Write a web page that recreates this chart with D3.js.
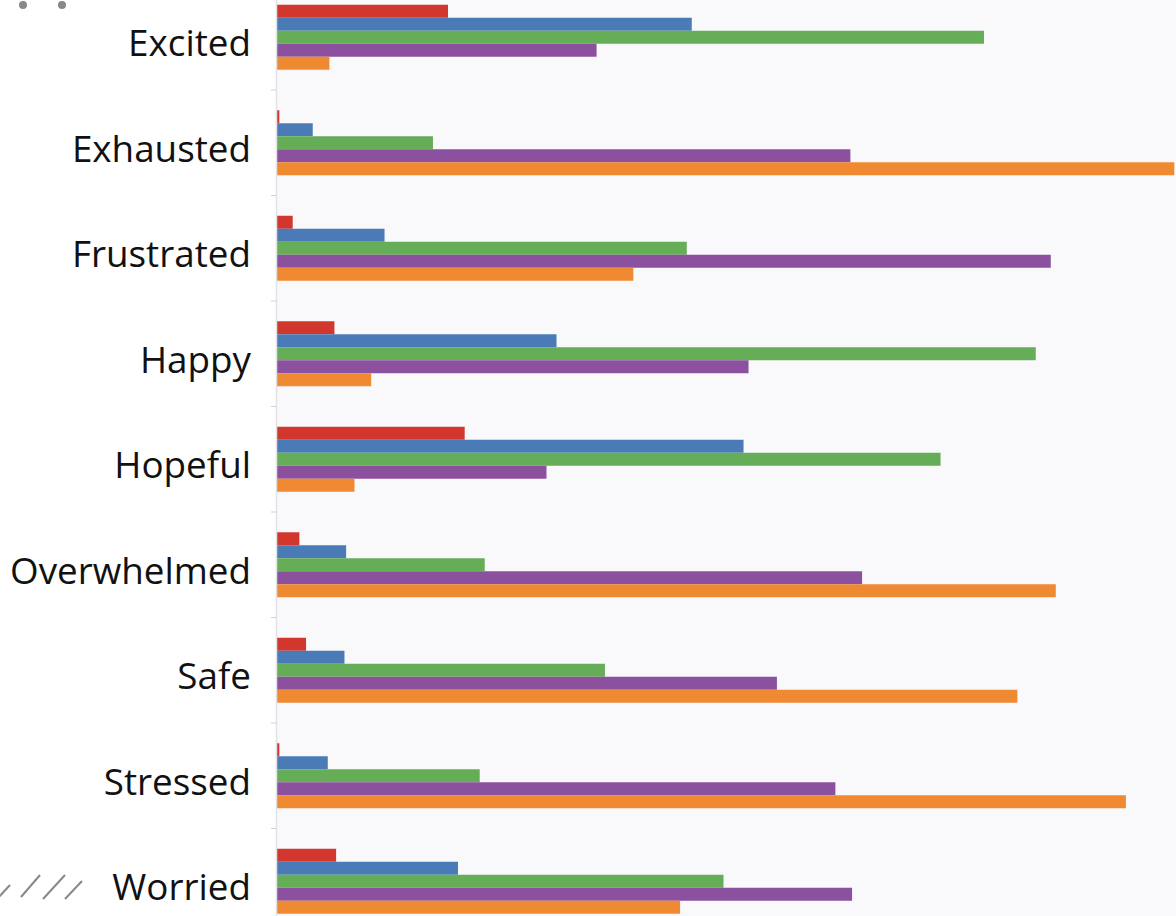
<!DOCTYPE html>
<html>
<head>
<meta charset="utf-8">
<script src="https://cdn.jsdelivr.net/npm/d3@7"></script>
<style>
  html, body { margin: 0; padding: 0; background: #ffffff; overflow: hidden; }
  svg { display: block; }
</style>
</head>
<body>
<svg id="chart" width="1176" height="916"></svg>
<script>
// ---- data (percent of respondents per feeling) ----
const categories = ["Excited", "Exhausted", "Frustrated", "Happy", "Hopeful", "Overwhelmed", "Safe", "Stressed", "Worried"];
const seriesNames = ["Never", "Rarely", "Sometimes", "Often", "Always"];
const seriesColors = ["#d2372e", "#4a7bb7", "#66ad58", "#8c519e", "#ef8a33"];
const neverVals     = [10.3, 0.2, 1.0, 3.5, 11.3, 1.4, 1.8, 0.2, 3.6];
const rarelyVals    = [24.9, 2.2, 6.5, 16.8, 28.0, 4.2, 4.1, 3.1, 10.9];
const sometimesVals = [42.4, 9.4, 24.6, 45.5, 39.8, 12.5, 19.7, 12.2, 26.8];
const oftenVals     = [19.2, 34.4, 46.4, 28.3, 16.2, 35.1, 30.0, 33.5, 34.5];
const alwaysVals    = [3.2, 53.8, 21.4, 5.7, 4.7, 46.7, 44.4, 50.9, 24.2];
const seriesValues = [neverVals, rarelyVals, sometimesVals, oftenVals, alwaysVals];

const svg = d3.select("#chart");
const W = 1176, H = 916;
const plotLeft = 276, plotRight = 1176;
const plotTop = -15.5, plotBottom = 934;

// background of plot area
svg.append("rect")
  .attr("x", plotLeft).attr("y", 0)
  .attr("width", plotRight - plotLeft).attr("height", H)
  .attr("fill", "#f9f9fc");

const x = d3.scaleLinear().domain([0, 53.9]).range([plotLeft, plotRight]);
const y0 = d3.scaleBand().domain(categories).range([plotTop, plotBottom])
  .paddingInner(0.384).paddingOuter(0.192);
const y1 = d3.scaleBand().domain(seriesNames).range([0, y0.bandwidth()]);

// bars
const groups = svg.append("g").selectAll("g")
  .data(categories)
  .join("g")
  .attr("transform", d => `translate(0,${y0(d)})`);

groups.selectAll("rect")
  .data((c, ci) => seriesNames.map((s, si) => ({ s, si, v: seriesValues[si][ci] })))
  .join("rect")
  .attr("x", x(0))
  .attr("y", d => y1(d.s))
  .attr("width", d => x(d.v) - x(0))
  .attr("height", y1.bandwidth())
  .attr("fill", d => seriesColors[d.si]);

// axis line
svg.append("line")
  .attr("x1", plotLeft + 0.5).attr("x2", plotLeft + 0.5)
  .attr("y1", 0).attr("y2", H)
  .attr("stroke", "#e2e2e6").attr("stroke-width", 1.5);

// tick marks at category boundaries
const step = y0.step();
const boundaries = d3.range(1, categories.length).map(i => plotTop + i * step);
svg.append("g").selectAll("line")
  .data(boundaries)
  .join("line")
  .attr("x1", plotLeft - 5).attr("x2", plotLeft)
  .attr("y1", d => d).attr("y2", d => d)
  .attr("stroke", "#cfcfd4").attr("stroke-width", 1);

// category labels
svg.append("g").selectAll("text")
  .data(categories)
  .join("text")
  .attr("x", 251)
  .attr("y", d => y0(d) + y0.bandwidth() / 2)
  .attr("dy", "0.52em")
  .attr("text-anchor", "end")
  .attr("font-family", "'Open Sans', 'Noto Sans', sans-serif")
  .attr("font-size", 36.8)
  .attr("fill", "#111")
  .text(d => d);

// decorative dots top-left
svg.append("g").selectAll("circle")
  .data([23, 62])
  .join("circle")
  .attr("cx", d => d).attr("cy", 5).attr("r", 4)
  .attr("fill", "#888");

// decorative hatch bottom-left
const hatch = [[-2, 898, 10, 885], [21, 897, 40, 875], [43, 899, 65, 875], [65, 899, 82, 881]];
svg.append("g").selectAll("line")
  .data(hatch)
  .join("line")
  .attr("x1", d => d[0]).attr("y1", d => d[1])
  .attr("x2", d => d[2]).attr("y2", d => d[3])
  .attr("stroke", "#888").attr("stroke-width", 2);
</script>
</body>
</html>
